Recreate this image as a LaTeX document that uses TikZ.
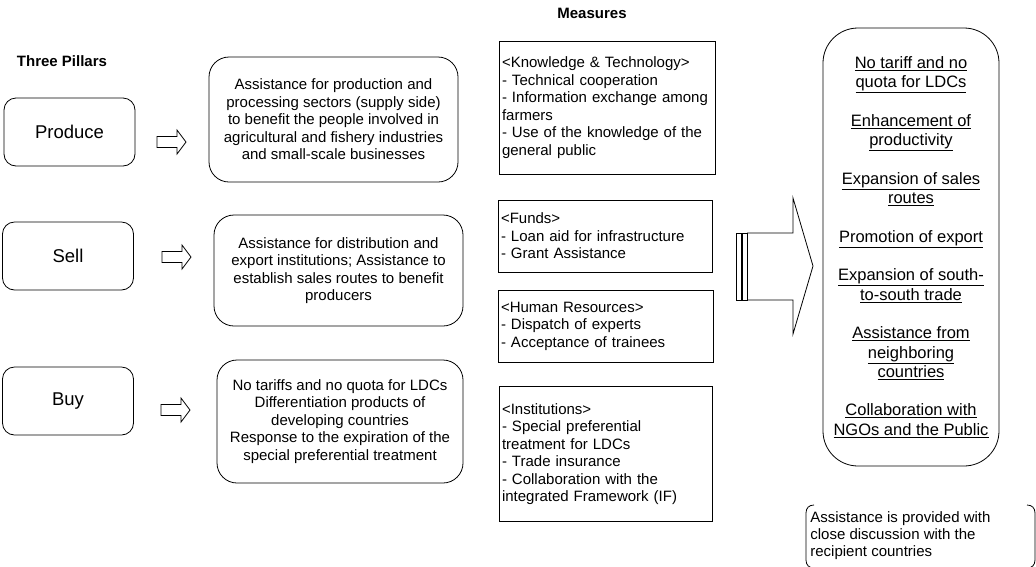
\documentclass[tikz,border=0pt]{standalone}
\usepackage{fontspec}
\setmainfont{Liberation Sans}
\begin{document}
\begin{tikzpicture}[x=1pt,y=-1pt,line width=0.8pt,
  heading/.style={font=\bfseries\fontsize{15}{18}\selectfont},
  pillar/.style={draw, rounded corners=12pt, minimum width=131pt, minimum height=68pt,
    font=\fontsize{18.5}{22}\selectfont},
  aim/.style={draw, rounded corners=20pt, align=center, inner sep=0pt,
    font=\fontsize{15}{17.5}\selectfont},
  measure/.style={draw, align=left, inner xsep=3pt, inner ysep=0pt,
    font=\fontsize{15}{17.5}\selectfont},
  goal/.style={draw, rounded corners=35pt, align=center, inner sep=0pt,
    minimum width=176pt, minimum height=438pt,
    font=\fontsize{16.5}{19.3}\selectfont},
  note/.style={align=left, inner sep=0pt, font=\fontsize{15}{17}\selectfont},
  blockarrow/.pic={\draw (0,-5.5) -- (20,-5.5) -- (20,-12) -- (29,0) -- (20,12)
    -- (20,5.5) -- (0,5.5) -- cycle;}
]
\useasboundingbox (0,0) rectangle (1036,566);

% column headings
\node[heading] (pillars) at (62,61) {Three Pillars};
\node[heading] (measures) at (592,13) {Measures};

% the three pillars
\node[pillar] (produce) at (69.5,132) {Produce};
\node[pillar] (sell) at (68,256) {Sell};
\node[pillar] (buy) at (68,401) {Buy};

% what each pillar aims at
\node[aim, minimum width=249pt, minimum height=125pt] (aimproduce) at (333.5,119.5)
  {Assistance for production and\\processing sectors (supply side)\\to benefit the people involved in\\agricultural and fishery industries\\and small-scale businesses};
\node[aim, minimum width=249pt, minimum height=111pt] (aimsell) at (338.5,270.5)
  {Assistance for distribution and\\export institutions; Assistance to\\establish sales routes to benefit\\producers};
\node[aim, minimum width=246pt, minimum height=123pt] (aimbuy) at (340,421.5)
  {No tariffs and no quota for LDCs\\Differentiation products of\\developing countries\\Response to the expiration of the\\special preferential treatment};

% hollow arrows from each pillar to its aim
\pic at (157,142) {blockarrow};
\pic at (162,257) {blockarrow};
\pic at (161,410) {blockarrow};

% measures
\node[measure, text width=210pt, minimum height=133pt] (knowledge) at (607,107.5)
  {<Knowledge \& Technology>\\- Technical cooperation\\- Information exchange among\\farmers\\- Use of the knowledge of the\\general public};
\node[measure, text width=208pt, minimum height=72pt] (funds) at (605,236)
  {<Funds>\\- Loan aid for infrastructure\\- Grant Assistance};
\node[measure, text width=209pt, minimum height=72pt] (human) at (605.5,326)
  {<Human Resources>\\- Dispatch of experts\\- Acceptance of trainees};
\node[measure, text width=207pt, minimum height=135pt] (institutions) at (605.5,454)
  {<Institutions>\\- Special preferential\\treatment for LDCs\\- Trade insurance\\- Collaboration with the\\integrated Framework (IF)};

% striped block arrow towards the outcomes
\draw (736,233) rectangle (741,300);
\draw (742,233) rectangle (747,300);
\draw (747,233) -- (793,233) -- (793,198) -- (813,266) -- (793,334) -- (793,300) -- (747,300);

% outcomes
\node[goal] (outcomes) at (911,247)
  {\underline{No tariff and no}\\\underline{quota for LDCs}\\[19.3pt]
   \underline{Enhancement of}\\\underline{productivity}\\[19.3pt]
   \underline{Expansion of sales}\\\underline{routes}\\[19.3pt]
   \underline{Promotion of export}\\[19.3pt]
   \underline{Expansion of south-}\\\underline{to-south trade}\\[19.3pt]
   \underline{Assistance from}\\\underline{neighboring}\\\underline{countries}\\[19.3pt]
   \underline{Collaboration with}\\\underline{NGOs and the Public}};

% bracketed remark
\draw (814,505) .. controls (809,505) and (806,508) .. (806,513) -- (806,560)
  .. controls (806,565) and (809,568) .. (814,568);
\draw (1027,505) .. controls (1032,505) and (1035,508) .. (1035,513) -- (1035,560)
  .. controls (1035,565) and (1032,568) .. (1027,568);
\node[note, anchor=west] (remark) at (810,536)
  {Assistance is provided with\\close discussion with the\\recipient countries};
\end{tikzpicture}
\end{document}
